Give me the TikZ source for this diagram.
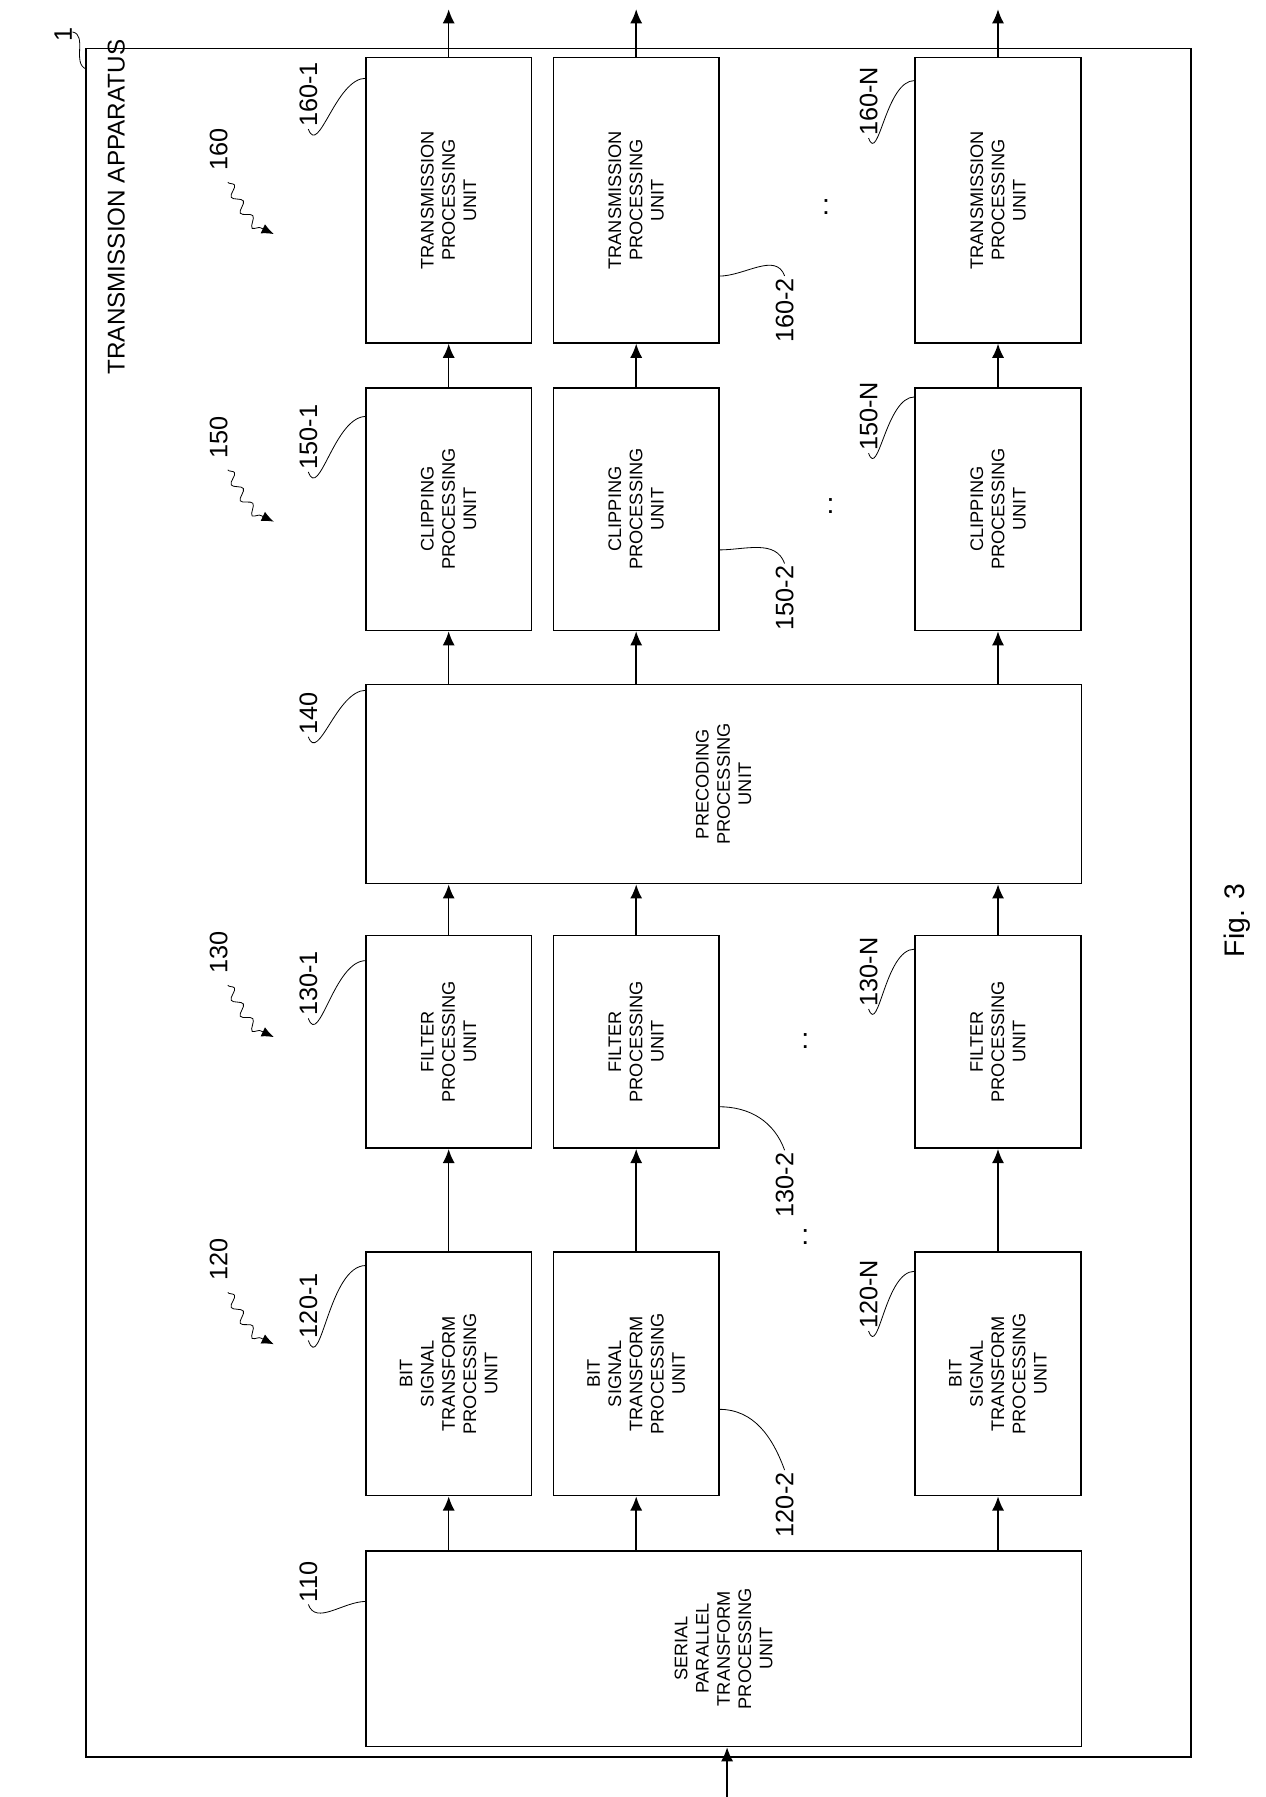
\documentclass[tikz,border=0pt]{standalone}
\usepackage{fontspec}
\setmainfont{Liberation Sans}
\usetikzlibrary{arrows.meta,decorations.pathmorphing}
\tikzset{
  box/.style={draw, thick, rotate=90, align=center, font=\fontsize{9}{10.5}\selectfont, inner sep=2pt},
  rowbox/.style={box, minimum height=2.88cm},
  num/.style={rotate=90, font=\fontsize{12.5}{14}\selectfont, inner sep=1pt},
  flow/.style={thick, -{Latex[length=7pt,width=6pt]}},
  lead/.style={thin},
  group/.style={thin, -{Latex[length=6pt,width=5pt]}, decorate, decoration={snake, amplitude=2.2pt, segment length=9pt, post length=6pt}},
}
\begin{document}
\begin{tikzpicture}[x=0.02cm, y=-0.02cm]
\useasboundingbox (0,0) rectangle (1100,1562);
% frame
\draw[thick] (75,42) rectangle (1035,1527);
\node[rotate=90, font=\fontsize{12}{14}\selectfont] (title) at (101,180) {TRANSMISSION APPARATUS};
\node[num] (l1) at (55,30) {1};
\draw[lead] (l1.east) ++(8,6) to[out=-10,in=160] (75,60);
\node[rotate=90, font=\fontsize{14}{16}\selectfont] (fig) at (1075,800) {Fig. 3};
% boxes
\node[box, minimum width=3.4cm, minimum height=12.44cm] (sp) at (629,1433) {SERIAL\\PARALLEL\\TRANSFORM\\PROCESSING\\UNIT};
\node[box, minimum width=3.46cm, minimum height=12.44cm] (pc) at (629,681.5) {PRECODING\\PROCESSING\\UNIT};
\foreach \n/\x in {1/390, 2/553, N/867.5} {
  \node[rowbox, minimum width=4.24cm] (bs\n) at (\x,1194) {BIT\\SIGNAL\\TRANSFORM\\PROCESSING\\UNIT};
  \node[rowbox, minimum width=3.7cm] (fp\n) at (\x,905.5) {FILTER\\PROCESSING\\UNIT};
  \node[rowbox, minimum width=4.22cm] (cp\n) at (\x,442.5) {CLIPPING\\PROCESSING\\UNIT};
  \node[rowbox, minimum width=4.96cm] (tp\n) at (\x,174) {TRANSMISSION\\PROCESSING\\UNIT};
  \coordinate (out\n) at (\x,8);
  \draw[flow] (bs\n |- sp.east) -- (bs\n.west);
  \draw[flow] (bs\n) -- (fp\n);
  \draw[flow] (fp\n.east) -- (fp\n |- pc.west);
  \draw[flow] (cp\n |- pc.east) -- (cp\n.west);
  \draw[flow] (cp\n) -- (tp\n);
  \draw[flow] (tp\n.east) -- (out\n);
}
\coordinate (in) at (632,1580);
\draw[flow] (in) -- (sp.west -| in);
% dots
\foreach \x/\y in {700/1075, 700/905, 722/440, 718/180}
  \node[font=\fontsize{14}{14}\selectfont] at (\x,\y) {:};
% reference numbers, left side
\foreach \t/\y/\ty in {110/1375/1392, 120-1/1135/1100, 130-1/855/835, 140/620/600, 150-1/380/362, 160-1/82/68} {
  \node[num] (n\t) at (268,\y) {\t};
  \draw[lead] (n\t.west) to[out=-70,in=180] (318,\ty);
}
\foreach \t/\y/\ty in {120-N/1125/1105, 130-N/845/825, 150-N/362/345, 160-N/88/70} {
  \node[num] (n\t) at (755,\y) {\t};
  \draw[lead] (n\t.west) to[out=-70,in=180] (795,\ty);
}
\foreach \t/\y/\ty in {120-2/1308/1225, 130-2/1030/962, 150-2/520/478, 160-2/270/240} {
  \node[num] (n\t) at (682,\y) {\t};
  \draw[lead] (625,\ty) to[out=0,in=110] (n\t.east);
}
% group labels
\foreach \t/\y in {120/1095, 130/828, 150/380, 160/130} {
  \node[num] (g\t) at (190,\y) {\t};
  \draw[group] (g\t.west) ++(8,8) to[out=-60,in=160] ++(40,45);
}
\end{tikzpicture}
\end{document}
